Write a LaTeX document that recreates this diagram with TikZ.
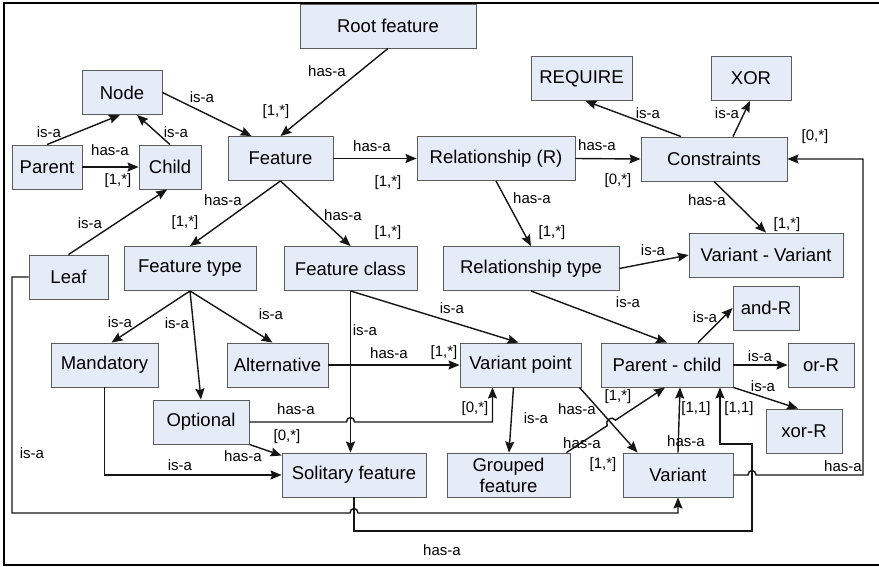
\documentclass[tikz,border=0pt]{standalone}
\usepackage{fontspec}
\setmainfont{Liberation Sans}
\usepackage{xcolor}
\usepackage{tikz}
\usetikzlibrary{arrows.meta,calc}
\definecolor{BoxLine}{HTML}{5C5C5C}
\definecolor{BoxFill}{HTML}{E6ECF7}
\definecolor{LinkDark}{HTML}{151515}

\begin{document}
\begin{tikzpicture}[x=1pt,y=-1pt,
    entity/.style={draw=BoxLine, fill=BoxFill, line width=0.9pt, inner sep=0pt,
                   minimum height=44pt, align=center, text=black,
                   font=\fontsize{18.5}{21}\selectfont},
    link/.style={draw=LinkDark, line width=1.4pt,
                 -{Stealth[length=11pt,width=9pt,inset=1.5pt]}},
    lbl/.style={inner sep=0pt, text=black, font=\fontsize{15}{17}\selectfont}]
  \useasboundingbox (0,0) rectangle (879,567);
  \draw[line width=2.5pt] (879,3) -- (4,3) -- (4,565) -- (879,565);

  % entities
  \node[entity, minimum width=176pt] (root) at (388,26) {Root feature};
  \node[entity, minimum width=80pt] (node) at (122,92.5) {Node};
  \node[entity, minimum width=70pt] (parent) at (47,167) {Parent};
  \node[entity, minimum width=62pt] (child) at (170,167) {Child};
  \node[entity, minimum width=105pt] (feature) at (280.5,158.5) {Feature};
  \node[entity, minimum width=158pt] (relR) at (496,158.5) {Relationship (R)};
  \node[entity, minimum width=101pt] (require) at (581.5,78.5) {REQUIRE};
  \node[entity, minimum width=80pt] (xor) at (751,78.5) {XOR};
  \node[entity, minimum width=146pt] (constraints) at (714,159) {Constraints};
  \node[entity, minimum width=154pt] (vv) at (766,255) {Variant - Variant};
  \node[entity, minimum width=79pt] (leaf) at (68.5,277) {Leaf};
  \node[entity, minimum width=132pt] (ftype) at (190,268.5) {Feature type};
  \node[entity, minimum width=133pt] (fclass) at (350.5,268.5) {Feature class};
  \node[entity, minimum width=176pt] (reltype) at (531,268.5) {Relationship type};
  \node[entity, minimum width=107pt] (mandatory) at (104.5,365) {Mandatory};
  \node[entity, minimum width=101pt] (alternative) at (277.5,365) {Alternative};
  \node[entity, minimum width=121pt] (vpoint) at (520.5,365) {Variant point};
  \node[entity, minimum width=132pt] (pchild) at (667,365) {Parent - child};
  \node[entity, minimum width=66pt] (andR) at (766,308) {and-R};
  \node[entity, minimum width=66pt] (orR) at (821,365) {or-R};
  \node[entity, minimum width=76pt] (xorR) at (804,431) {xor-R};
  \node[entity, minimum width=96pt] (optional) at (201,422) {Optional};
  \node[entity, minimum width=144pt] (solitary) at (354,475) {Solitary feature};
  \node[entity, minimum width=123pt] (grouped) at (508.5,475) {Grouped\\feature};
  \node[entity, minimum width=110pt] (variant) at (678,475) {Variant};

  % bends of the long connectors
  \coordinate (leafbend) at (12,513);
  \coordinate (bendA) at (752,531);
  \coordinate (bendB) at (752,444);
  \coordinate (railR) at (863,475);
  \coordinate (gstart) at ($(grouped.north east)+(-4,0)$);
  \coordinate (pend) at ($(pchild.south)+(-2,0)$);

  % upper part
  \draw[link] (root.south) -- (feature.north)
    node[lbl] at (327,71) {has-a} node[lbl] at (276,112) {[1,*]};
  \draw[link] (node.east) -- ($(feature.north west)+(24,0)$)
    node[lbl] at (202,97) {is-a};
  \draw[link] (parent.north) -- ($(node.south)+(-2,0)$)
    node[lbl] at (49,132) {is-a};
  \draw[link] (child.north) -- ($(node.south)+(15,0)$)
    node[lbl] at (176,132) {is-a};
  \draw[link] (parent) -- (child)
    node[lbl] at (110,150) {has-a} node[lbl] at (118,181) {[1,*]};
  \draw[link] (leaf.north) -- ($(child.south)+(-3,0)$)
    node[lbl] at (90,223) {is-a};
  \draw[link] (feature) -- (relR)
    node[lbl] at (372,146) {has-a} node[lbl] at (388,183) {[1,*]};
  \draw[link] (relR.east) -- (constraints.west)
    node[lbl] at (597,145) {has-a} node[lbl] at (618,181) {[0,*]};
  \draw[link] ($(constraints.north)+(-33,0)$) -- ($(require.south)+(4,0)$)
    node[lbl] at (648,113) {is-a};
  \draw[link] ($(constraints.north)+(19,0)$) -- ($(xor.south)+(-1,0)$)
    node[lbl] at (727,113) {is-a};
  \draw[link] (constraints.south) -- (vv.north)
    node[lbl] at (707,200) {has-a} node[lbl] at (787,225) {[1,*]};
  \draw[link] (relR.south) -- (reltype.north)
    node[lbl] at (532,198) {has-a} node[lbl] at (552,233) {[1,*]};
  \draw[link] (feature.south) -- (ftype.north)
    node[lbl] at (223,200) {has-a} node[lbl] at (185,223) {[1,*]};
  \draw[link] (feature.south) -- (fclass.north)
    node[lbl] at (343,215) {has-a} node[lbl] at (388,233) {[1,*]};
  \draw[link] (reltype.east) -- (vv.west)
    node[lbl] at (653,250) {is-a};

  % relationship kinds
  \draw[link] (reltype.south) -- (pchild.north)
    node[lbl] at (628,302) {is-a};
  \draw[link] ($(pchild.north)+(31,0)$) -- (andR.west)
    node[lbl] at (705,317) {is-a};
  \draw[link] (pchild.east) -- (orR.west)
    node[lbl] at (760,356) {is-a};
  \draw[link] (pchild.south east) -- ($(xorR.north)+(-6,0)$)
    node[lbl] at (763,386) {is-a};

  % feature types and classes
  \draw[link] (ftype.south) -- ($(mandatory.north)+(7,0)$)
    node[lbl] at (120,322) {is-a};
  \draw[link] (ftype.south) -- (optional.north)
    node[lbl] at (177,323) {is-a};
  \draw[link] (ftype.south) -- ($(alternative.north)+(-5,0)$)
    node[lbl] at (271,314) {is-a};
  \draw[link] (fclass.south) -- ($(vpoint.north)+(-2,0)$)
    node[lbl] at (452,308) {is-a};
  \draw[link] (fclass.south) -- (fclass.south |- solitary.north)
    node[lbl] at (365,330) {is-a};
  \draw[link] (alternative) -- (vpoint)
    node[lbl] at (389,353) {has-a} node[lbl] at (444,353) {[1,*]};
  \draw[link] (optional.east) -- ($(fclass.south |- optional.east)+(-4,0)$)
    .. controls +(0,-6) and +(0,-6) .. ($(fclass.south |- optional.east)+(4,0)$)
    -- ($(vpoint.south |- optional.east)+(-28,0)$) -- ($(vpoint.south)+(-28,0)$)
    node[lbl] at (296,409) {has-a} node[lbl] at (475,409) {[0,*]};
  \draw[link] (optional.south east) -- ($(solitary.north west)+(0,3)$)
    node[lbl] at (243,456) {has-a} node[lbl] at (287,437) {[0,*]};
  \draw[link] (mandatory.south) |- (solitary.west)
    node[lbl] at (180,465) {is-a};

  % variants
  \draw[link] ($(vpoint.south)+(-7,0)$) -- ($(grouped.north)+(0.5,0)$)
    node[lbl] at (536,418) {is-a};
  \draw[link] ($(vpoint.south east)+(-2,0)$) -- ($(variant.north west)+(15,0)$)
    node[lbl] at (577,409) {has-a} node[lbl] at (603,465) {[1,*]};
  \draw[link] (gstart) -- ($(gstart)!0.414!(pend)$)
    .. controls +(-3.3,-5) and +(-3.3,-5) .. ($(gstart)!0.498!(pend)$) -- (pend)
    node[lbl] at (582,443) {has-a} node[lbl] at (618,397) {[1,*]};
  \draw[link] (variant.north) -- ($(pchild.south)+(13,0)$)
    node[lbl] at (686,441) {has-a} node[lbl] at (696,409) {[1,1]};

  % long connectors round the edge
  \draw[link] (leaf.west) -| (leafbend)
    -- ($(solitary.south |- leafbend)+(-4,0)$)
    .. controls +(0,-6) and +(0,-6) .. ($(solitary.south |- leafbend)+(4,0)$)
    -| (variant.south)
    node[lbl] at (32,453) {is-a};
  \draw[link] (solitary.south) |- (bendA) -- (bendB) -| ($(pchild.south)+(53,0)$)
    node[lbl] at (442,550) {has-a} node[lbl] at (739,409) {[1,1]};
  \draw[link] (variant.east) -- ($(bendA |- variant.east)+(-4,0)$)
    .. controls +(0,-6) and +(0,-6) .. ($(bendA |- variant.east)+(4,0)$)
    -- (railR) |- (constraints.east)
    node[lbl] at (843,466) {has-a} node[lbl] at (815,137) {[0,*]};
\end{tikzpicture}
\end{document}
